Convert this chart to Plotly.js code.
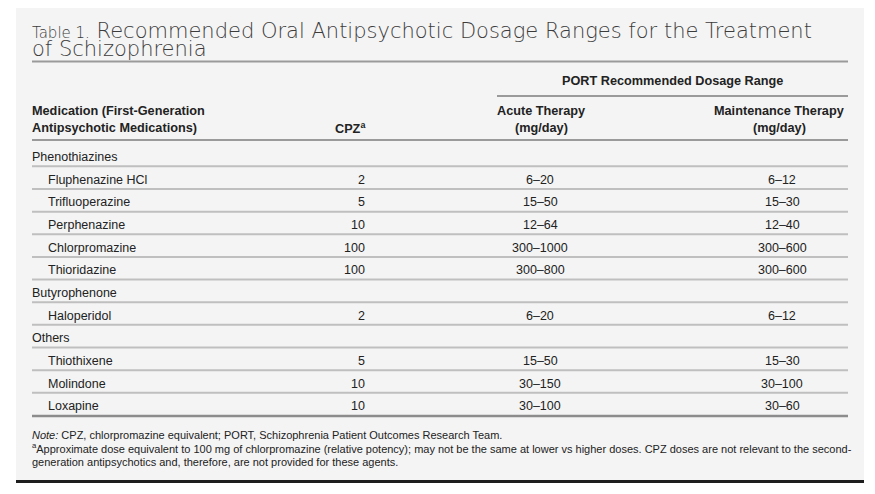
<!DOCTYPE html>
<html>
<head>
<meta charset="utf-8">
<script src="https://cdn.plot.ly/plotly-3.0.1.min.js"></script>
<style>html,body{margin:0;padding:0;background:#fff;}#chart{width:875px;height:494px;}</style>
</head>
<body>
<div id="chart"></div>
<script>
// ---- data ----
const medications = ["Phenothiazines","Fluphenazine HCl","Trifluoperazine","Perphenazine","Chlorpromazine","Thioridazine","Butyrophenone","Haloperidol","Others","Thiothixene","Molindone","Loxapine"];
const isGroup = [true,false,false,false,false,false,true,false,true,false,false,false];
const cpz = ["","2","5","10","100","100","","2","","5","10","10"];
const acute = ["","6–20","15–50","12–64","300–1000","300–800","","6–20","","15–50","30–150","30–100"];
const maintenance = ["","6–12","15–30","12–40","300–600","300–600","","6–12","","15–30","30–100","30–60"];
const titleLabel = "Table 1.";
const titleText1 = "Recommended Oral Antipsychotic Dosage Ranges for the Treatment";
const titleText2 = "of Schizophrenia";
const headMed = ["Medication (First-Generation","Antipsychotic Medications)"];
const headCpz = "CPZ<sup>a</sup>";
const headSpan = "PORT Recommended Dosage Range";
const headAcute = ["Acute Therapy","(mg/day)"];
const headMaint = ["Maintenance Therapy","(mg/day)"];
const notes = [
  "<i>Note:</i> CPZ, chlorpromazine equivalent; PORT, Schizophrenia Patient Outcomes Research Team.",
  "<sup>a</sup>Approximate dose equivalent to 100 mg of chlorpromazine (relative potency); may not be the same at lower vs higher doses. CPZ doses are not relevant to the second-",
  "generation antipsychotics and, therefore, are not provided for these agents."
];

// ---- layout geometry ----
const L = 32, R = 848;
const row0 = 157, rowH = 22.65;
const cellFont = {family: "'Liberation Sans',Arial,sans-serif", size: 12.5, color: "#222"};
const headFont = Object.assign({}, cellFont, {size: 12.7, weight: 700});
const noteFont = Object.assign({}, cellFont, {size: 11});
const titleFont = {family: "'DejaVu Sans',sans-serif", size: 21, color: "#3c3c3c", weight: 200};

const ann = [];
function A(x, y, text, font, xanchor, extra) {
  xanchor = xanchor || 'left';
  const dx = xanchor === 'left' ? -2 : (xanchor === 'right' ? 2 : 0);
  ann.push(Object.assign({x: x + dx, y: y, xref: 'x', yref: 'y', text: text, font: font,
    xanchor: xanchor, yanchor: 'middle', showarrow: false, align: xanchor === 'center' ? 'center' : xanchor}, extra || {}));
}
const shapes = [];
function H(y, x0, x1, w, c) {
  shapes.push({type: 'line', xref: 'x', yref: 'y', x0: x0, x1: x1, y0: y, y1: y, line: {color: c, width: w}});
}

// panel
shapes.push({type: 'rect', xref: 'x', yref: 'y', x0: 16, x1: 864, y0: 8, y1: 481, fillcolor: '#f4f4f4', line: {width: 0}, layer: 'below'});
H(481.5, 16, 864, 3, '#1e1e1e');

// title
A(L, 30.5, '<span style="font-size:15px">' + titleLabel + '</span> ' + titleText1, titleFont, 'left');
A(L, 48.5, titleText2, titleFont, 'left');
H(61.5, L, R, 2, '#9a9a9a');

// header
A(672, 81, headSpan, headFont, 'center');
H(96, 497, R, 2, '#9a9a9a');
A(L, 111, headMed[0], headFont, 'left');
A(L, 127.5, headMed[1], headFont, 'left');
A(365, 127.5, headCpz, headFont, 'right');
A(541, 111, headAcute[0], headFont, 'center');
A(541, 127.5, headAcute[1], headFont, 'center');
A(779, 111, headMaint[0], headFont, 'center');
A(779, 127.5, headMaint[1], headFont, 'center');
H(140, L, R, 2, '#9a9a9a');

// body rows
medications.forEach(function (m, i) {
  const y = row0 + i * rowH;
  A(isGroup[i] ? L : 48, y, m, cellFont, 'left');
  if (cpz[i]) A(365, y, cpz[i], cellFont, 'right');
  if (acute[i]) A(540, y, acute[i], cellFont, 'center');
  if (maintenance[i]) A(782, y, maintenance[i], cellFont, 'center');
  const ly = y + rowH / 2 - 2;
  if (i < medications.length - 1) H(ly, L, R, 2, '#bfbfbf');
  else H(ly + 0.5, L, R, 2.5, '#8c8c8c');
});

// notes
notes.forEach(function (n, i) {
  A(L, 434.5 + i * 13.8, n, noteFont, 'left');
});

const layout = {
  width: 875, height: 494,
  margin: {l: 0, r: 0, t: 0, b: 0},
  paper_bgcolor: '#ffffff', plot_bgcolor: '#ffffff',
  xaxis: {range: [0, 875], visible: false, fixedrange: true},
  yaxis: {range: [494, 0], visible: false, fixedrange: true},
  showlegend: false,
  annotations: ann,
  shapes: shapes
};
Plotly.newPlot('chart', [{x: [], y: [], type: 'scatter', mode: 'markers', hoverinfo: 'skip'}], layout, {staticPlot: true, displayModeBar: false});
</script>
</body>
</html>
